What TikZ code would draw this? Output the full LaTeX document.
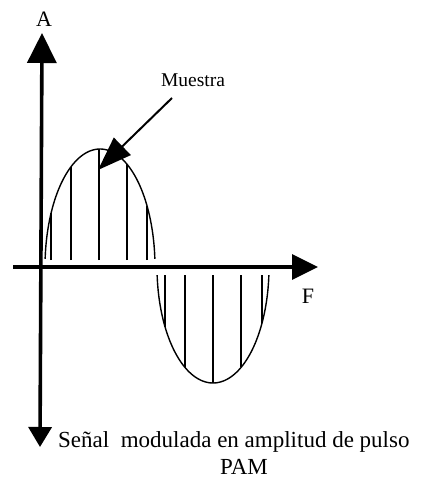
\documentclass[tikz,border=0pt]{standalone}
\usepackage{fontspec}
\setmainfont{Liberation Serif}
\usetikzlibrary{arrows.meta}
\begin{document}
\begin{tikzpicture}[x=1pt,y=-1pt,
  axis/.style={line width=3.6pt},
  curve/.style={line width=1.4pt},
  sample/.style={line width=1.3pt},
  lbl/.style={inner sep=0pt, font=\fontsize{22}{24}\selectfont}]
\useasboundingbox (0,0) rectangle (429,481);
\fill[white] (0,0) rectangle (429,481);
% axis end points
\coordinate (ytop) at (42,33);
\coordinate (ybot) at (40,447);
\coordinate (xl) at (13,267);
\coordinate (xr) at (318,267);
\draw[axis,{Triangle[length=20pt,width=23pt]}-{Triangle[length=30pt,width=29pt]}] (ybot) -- (ytop);
\draw[axis,-{Triangle[length=26pt,width=25pt]}] (xl) -- (xr);
% half-waves
\draw[curve] plot[domain=4:176,samples=80] ({100+55*cos(\x)},{267-118*sin(\x)});
\draw[curve] plot[domain=4:176,samples=80] ({213+56*cos(\x)},{267+116*sin(\x)});
% samples
\foreach \s in {51,71,99,127,147}
  \draw[sample] (\s,260) -- (\s,{267-118*sqrt(1-((\s-100)/55)^2)});
\foreach \s in {165,185,213,241,262}
  \draw[sample] (\s,275) -- (\s,{267+116*sqrt(1-((\s-213)/56)^2)});
% labels
\node[lbl] (la) at (44,19) {A};
\node[lbl] (lf) at (308,296) {F};
\node[lbl, font=\fontsize{19.5}{21}\selectfont] (muestra) at (193,80) {Muestra};
\coordinate (mtail) at (172,98);
\coordinate (mtip) at (98,170);
\draw[line width=2pt,-{Triangle[length=34pt,width=24pt]}] (mtail) -- (mtip);
\node[lbl, font=\fontsize{23}{25}\selectfont, anchor=base west] (senal) at (58,447) {Señal\ \ modulada en amplitud de pulso};
\node[lbl, font=\fontsize{23}{25}\selectfont] (pam) at (244,467) {PAM};
\end{tikzpicture}
\end{document}
